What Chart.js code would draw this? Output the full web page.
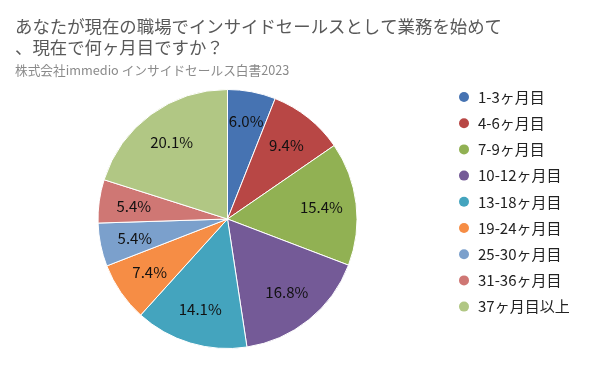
<!DOCTYPE html>
<html>
<head>
<meta charset="utf-8">
<title>インサイドセールス 業務期間</title>
<script src="https://cdn.jsdelivr.net/npm/chart.js"></script>
<style>
  html, body { margin: 0; padding: 0; background: #fff; }
  #wrap { width: 596px; height: 367px; }
</style>
</head>
<body>
<div id="wrap"><canvas id="pieChart" width="596" height="367"></canvas></div>

<script>
    // data
    const labels = ['1-3ヶ月目', '4-6ヶ月目', '7-9ヶ月目', '10-12ヶ月目', '13-18ヶ月目',
                    '19-24ヶ月目', '25-30ヶ月目', '31-36ヶ月目', '37ヶ月目以上'];
    const values = [6.0, 9.4, 15.4, 16.8, 14.1, 7.4, 5.4, 5.4, 20.1];
    const colors = ['#4673B2', '#B84745', '#91B153', '#745A97', '#44A4BE',
                    '#F68D45', '#7BA0CC', '#CF7774', '#B1C784'];
    const titleLines = ['あなたが現在の職場でインサイドセールスとして業務を始めて', '、現在で何ヶ月目ですか？'];
    const subtitle = '株式会社immedio インサイドセールス白書2023';

    const FONT = '"Noto Sans CJK JP", "Noto Sans", sans-serif';

    // title + subtitle at the top left
    const headerPlugin = {
        id: 'header',
        afterDraw(chart) {
            const c = chart.ctx;
            c.save();
            c.textBaseline = 'middle';
            c.textAlign = 'left';
            c.fillStyle = '#595959';
            c.font = '17.4px ' + FONT;
            titleLines.forEach((t, i) => c.fillText(t, 15, 26 + i * 21));
            c.fillStyle = '#8a8a8a';
            c.font = '12.7px ' + FONT;
            c.fillText(subtitle, 15, 70);
            c.restore();
        }
    };

    // percentage labels inside slices
    const sliceLabels = {
        id: 'sliceLabels',
        afterDatasetsDraw(chart) {
            const c = chart.ctx;
            const meta = chart.getDatasetMeta(0);
            c.save();
            c.fillStyle = '#111';
            c.font = '15px ' + FONT;
            c.textAlign = 'center';
            c.textBaseline = 'middle';
            meta.data.forEach((arc, i) => {
                const mid = (arc.startAngle + arc.endAngle) / 2;
                const r = arc.outerRadius * (i === 0 ? 0.77 : 0.73);
                c.fillText(values[i].toFixed(1) + '%', arc.x + Math.cos(mid) * r, arc.y + Math.sin(mid) * r);
            });
            c.restore();
        }
    };

    // legend on the right, one row per category
    const sideLegend = {
        id: 'sideLegend',
        afterDraw(chart) {
            const c = chart.ctx;
            c.save();
            c.font = '15px ' + FONT;
            c.textBaseline = 'middle';
            c.textAlign = 'left';
            labels.forEach((l, i) => {
                const y = 97 + i * 26.2;
                c.beginPath();
                c.arc(464, y, 5, 0, Math.PI * 2);
                c.fillStyle = colors[i];
                c.fill();
                c.fillStyle = '#222';
                c.fillText(l, 478, y);
            });
            c.restore();
        }
    };

    const ctx = document.getElementById('pieChart').getContext('2d');
    const pieChart = new Chart(ctx, {
        type: 'pie',
        data: {
            labels: labels,
            datasets: [{
                data: values,
                backgroundColor: colors,
                borderColor: '#ffffff',
                borderWidth: 1
            }]
        },
        options: {
            responsive: false,
            animation: false,
            layout: {
                padding: { left: 97, right: 238, top: 89, bottom: 18 }
            },
            plugins: {
                legend: { display: false },
                title: { display: false },
                tooltip: { enabled: false }
            }
        },
        plugins: [headerPlugin, sliceLabels, sideLegend]
    });
</script>
</body>
</html>
